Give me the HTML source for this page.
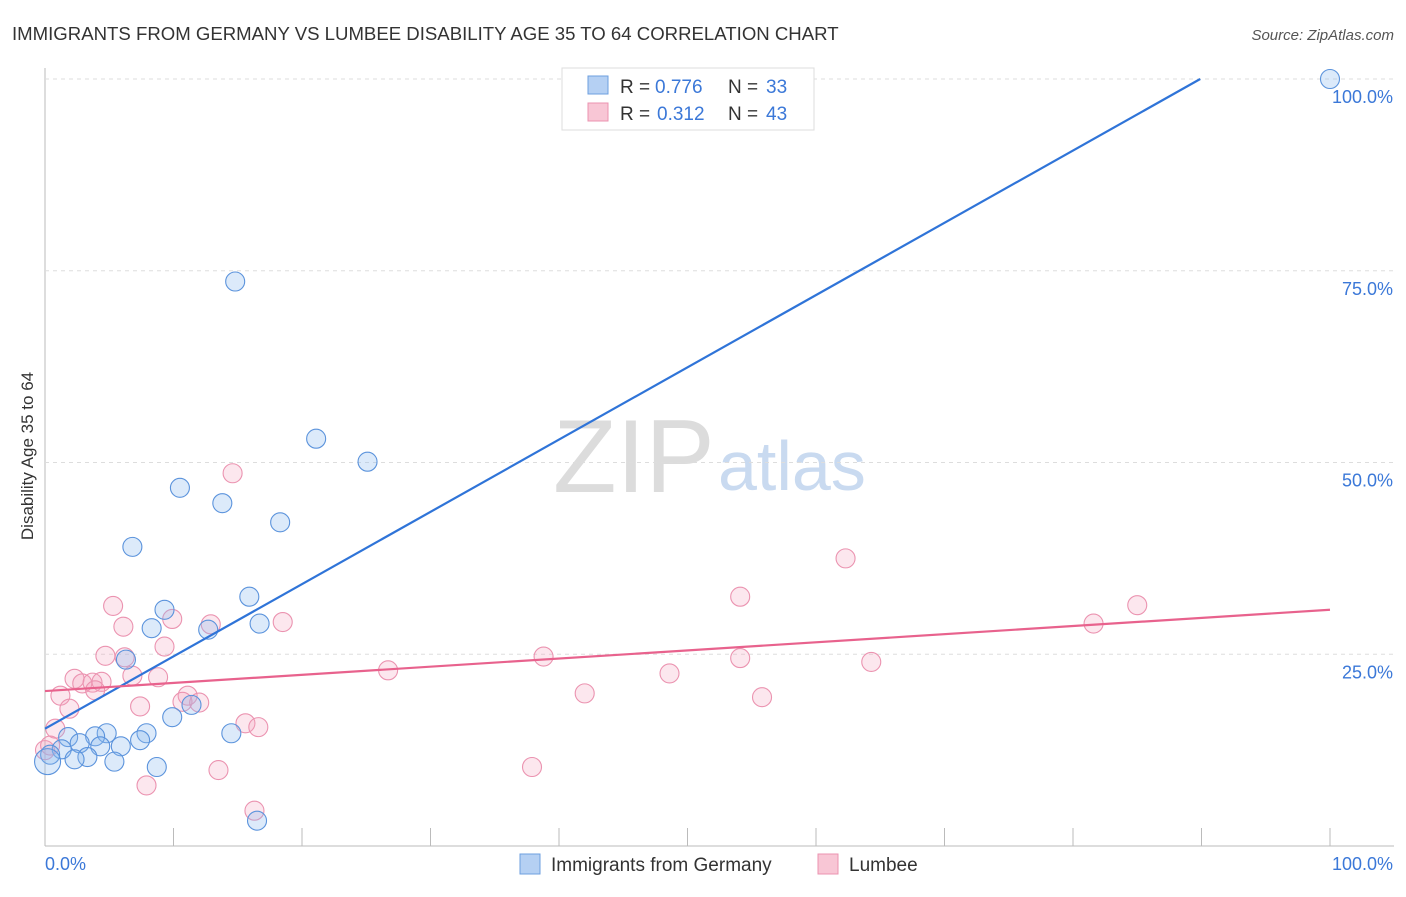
<!DOCTYPE html>
<html><head><meta charset="utf-8"><style>
body{margin:0;background:#fff;font-family:"Liberation Sans",sans-serif}
svg text{font-family:"Liberation Sans",sans-serif}
</style></head><body>
<svg id="chart" width="1406" height="892">
<text x="12" y="40" font-size="18.6" fill="#333">IMMIGRANTS FROM GERMANY VS LUMBEE DISABILITY AGE 35 TO 64 CORRELATION CHART</text>
<text x="1394" y="40" font-size="15" fill="#555" font-style="italic" text-anchor="end">Source: ZipAtlas.com</text>
<text x="33" y="456" font-size="17" fill="#333" text-anchor="middle" transform="rotate(-90 33 456)">Disability Age 35 to 64</text>
<text x="553" y="492" font-size="104" fill="#dcdcdc" font-family="Liberation Serif">ZIP</text>
<text x="718" y="490" font-size="70" fill="#c9daf0">atlas</text>
<g id="grid"></g><g id="marks"></g>
<g>
<rect x="562" y="68" width="252" height="62" fill="#fff" stroke="#ddd"/>
<rect x="588" y="76" width="20" height="18" fill="#b5d0f3" stroke="#6d9fdf"/>
<rect x="588" y="103" width="20" height="18" fill="#f8c6d5" stroke="#eb93b0"/>
<text y="93" font-size="19" fill="#333"><tspan x="620">R = </tspan><tspan x="655" fill="#3b78d8">0.776</tspan><tspan x="728">N = </tspan><tspan x="766" fill="#3b78d8">33</tspan></text>
<text y="120" font-size="19" fill="#333"><tspan x="620">R = </tspan><tspan x="657" fill="#3b78d8">0.312</tspan><tspan x="728">N = </tspan><tspan x="766" fill="#3b78d8">43</tspan></text>
</g>
<g>
<rect x="520" y="854" width="20" height="20" fill="#b5d0f3" stroke="#6d9fdf"/>
<text x="551" y="871" font-size="19" fill="#333">Immigrants from Germany</text>
<rect x="818" y="854" width="20" height="20" fill="#f8c6d5" stroke="#eb93b0"/>
<text x="849" y="871" font-size="19" fill="#333">Lumbee</text>
</g>
</svg>
<script>
const yTicks=[25,50,75,100];
const xTickLabels=["0.0%","100.0%"];
const blueX=[100,14.8,21.1,25.1,10.5,13.8,18.3,6.8,15.9,9.3,16.7,8.3,12.7,6.3,11.4,9.9,14.5,7.9,7.4,4.8,3.9,1.8,2.7,4.3,5.9,1.3,3.3,2.3,5.4,0.4,8.7,16.5,0.2];
const blueY=[100,73.6,53.1,50.1,46.7,44.7,42.2,39.0,32.5,30.8,29.0,28.4,28.2,24.3,18.4,16.8,14.7,14.7,13.8,14.7,14.3,14.2,13.4,13.0,13.0,12.6,11.6,11.3,11.0,11.9,10.3,3.3,11.0];
const pinkX=[14.6,62.3,54.1,85.0,5.3,18.5,9.9,6.1,12.9,9.3,4.7,6.2,81.6,38.8,54.1,64.3,26.7,48.6,2.3,6.8,8.8,2.9,3.7,4.4,3.9,1.2,42.0,55.8,11.1,10.7,12.0,7.4,1.9,0.8,15.6,16.6,13.5,37.9,7.9,16.3,0,0.4];
const pinkY=[48.6,37.5,32.5,31.4,31.3,29.2,29.6,28.6,28.9,26.0,24.8,24.6,29.0,24.7,24.5,24.0,22.9,22.5,21.8,22.2,22.0,21.2,21.3,21.4,20.3,19.6,19.9,19.4,19.6,18.8,18.7,18.2,17.9,15.3,16.0,15.5,9.9,10.3,7.9,4.6,12.5,13.1];
const blueLine=[[0,15.3],[89.9,100]];
const pinkLine=[[0,20.2],[100,30.8]];
const X0=45,X1=1330,Y0=846,Y100=79;
const sx=v=>X0+(X1-X0)*v/100, sy=v=>Y0-(Y0-Y100)*v/100;
const NS="http://www.w3.org/2000/svg";
const grid=document.getElementById('grid'), marks=document.getElementById('marks');
function mk(tag,at,p){const e=document.createElementNS(NS,tag);for(const k in at)e.setAttribute(k,at[k]);p.appendChild(e);return e;}
let ax=mk('line',{x1:45,y1:68,x2:45,y2:846,stroke:'#bbb'},grid);


let bx=mk('line',{x1:45,y1:846,x2:1394,y2:846,stroke:'#bbb'},grid);


for(let i=1;i<=10;i++){const x=X0+(X1-X0)*i/10;let t=mk('line',{x1:x,y1:828,x2:x,y2:846,stroke:'#bbb'},grid);

}
yTicks.forEach(v=>{let g=mk('line',{x1:45,y1:sy(v),x2:1394,y2:sy(v),stroke:'#ddd','stroke-dasharray':'4 4'},grid);


let t=mk('text',{x:1393,y:sy(v)+24,'font-size':18,fill:'#3b78d8','text-anchor':'end'},grid);t.textContent=v.toFixed(1)+'%';

});
let l0=mk('text',{x:45,y:870,'font-size':18,fill:'#3b78d8'},grid);l0.textContent=xTickLabels[0];


let l1=mk('text',{x:1393,y:870,'font-size':18,fill:'#3b78d8','text-anchor':'end'},grid);l1.textContent=xTickLabels[1];


pinkX.forEach((v,i)=>{let c=mk('circle',{cx:sx(v),cy:sy(pinkY[i]),r:9.5,fill:'rgba(244,160,187,0.25)',stroke:'#eb93b0','stroke-width':1.1},marks);

});
blueX.forEach((v,i)=>{let c=mk('circle',{cx:sx(v),cy:sy(blueY[i]),r:(i==blueX.length-1?13:9.5),fill:'rgba(140,185,240,0.3)',stroke:'#5b93dc','stroke-width':1.1},marks);

});
let bl=mk('line',{x1:sx(blueLine[0][0]),y1:sy(blueLine[0][1]),x2:sx(blueLine[1][0]),y2:sy(blueLine[1][1]),stroke:'#2f74d8','stroke-width':2.2},marks);


let pl=mk('line',{x1:sx(pinkLine[0][0]),y1:sy(pinkLine[0][1]),x2:sx(pinkLine[1][0]),y2:sy(pinkLine[1][1]),stroke:'#e8628d','stroke-width':2.2},marks);


</script>
</body></html>
